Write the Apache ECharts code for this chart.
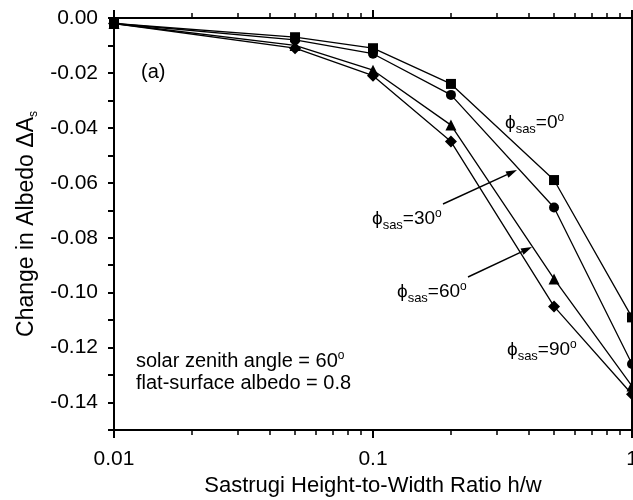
<!DOCTYPE html>
<html lang="en">
<head>
    <meta charset="UTF-8">
    <title>Change in Albedo</title>
    <script src="https://cdn.jsdelivr.net/npm/echarts@6/dist/echarts.min.js"></script>
    <style>
        body { margin: 0; background: #fff; }
    </style>
</head>
<body>
<div id="main" style="width: 633px;height:500px;"></div>
<script type="text/javascript">
    // h/w ratio values (x) and change in albedo for each azimuth
    var ratios = [0.01, 0.05, 0.1, 0.2, 0.5, 1];
    var phi0  = [-0.002, -0.007, -0.011, -0.024, -0.059, -0.109];
    var phi30 = [-0.002, -0.008, -0.013, -0.028, -0.069, -0.126];
    var phi60 = [-0.002, -0.010, -0.019, -0.039, -0.095, -0.134];
    var phi90 = [-0.002, -0.011, -0.021, -0.045, -0.105, -0.137];
    var seriesNames = ['phi=0', 'phi=30', 'phi=60', 'phi=90'];
    var symbols = ['rect', 'circle', 'triangle', 'diamond'];
    var symbolSizes = [10, 10, 11, 12];

    var font = '"Liberation Sans", Arial, Helvetica, sans-serif';

    function pairs(ys) {
        return ratios.map(function (x, i) { return [x, ys[i]]; });
    }

    var allData = [phi0, phi30, phi60, phi90];
    var series = allData.map(function (ys, i) {
        return {
            name: seriesNames[i],
            type: 'line',
            data: pairs(ys),
            symbol: symbols[i],
            symbolSize: symbolSizes[i],
            clip: false,
            lineStyle: { color: '#000', width: 1.3 },
            itemStyle: { color: '#000' },
            z: 3
        };
    });

    var phiRich = {
        p: { fontFamily: font, fontSize: 19, fill: '#000' },
        s: { fontFamily: font, fontSize: 13, fill: '#000', padding: [13, 0, 0, 0] },
        n: { fontFamily: font, fontSize: 19, fill: '#000' },
        o: { fontFamily: font, fontSize: 12, fill: '#000', padding: [0, 0, 9, 0] }
    };

    function phiLabel(deg, x, y) {
        return {
            type: 'text', left: x, top: y, z: 10,
            style: {
                text: '{p|ϕ}{s|sas}{n|=' + deg + '}{o|o}',
                rich: phiRich
            }
        };
    }

    function arrow(x1, y1, x2, y2) {
        var ang = Math.atan2(y2 - y1, x2 - x1);
        var L = 11, W = 3.5;
        var bx = x2 - L * Math.cos(ang), by = y2 - L * Math.sin(ang);
        var px = -Math.sin(ang) * W, py = Math.cos(ang) * W;
        return [
            { type: 'line', z: 10, shape: { x1: x1, y1: y1, x2: bx, y2: by },
              style: { stroke: '#000', lineWidth: 1.4 } },
            { type: 'polygon', z: 10,
              shape: { points: [[x2, y2], [bx + px, by + py], [bx - px, by - py]] },
              style: { fill: '#000' } }
        ];
    }

    var myChart = echarts.init(document.getElementById('main'));

    var xAxisCommon = {
        type: 'log',
        min: 0.01,
        max: 1,
        logBase: 10,
        axisLine: { onZero: false, lineStyle: { color: '#000', width: 2 } },
        axisTick: { length: 8, lineStyle: { color: '#000', width: 2 } },
        minorTick: { show: true, splitNumber: 9, length: 5, lineStyle: { color: '#000', width: 1.5 } },
        splitLine: { show: false }
    };

    var option = {
        animation: false,
        backgroundColor: '#fff',
        grid: {
            left: 114, top: 18, right: 1, bottom: 70,
            containLabel: false, outerBoundsMode: 'none',
            show: true, borderColor: '#000', borderWidth: 2
        },
        xAxis: [
            Object.assign({}, xAxisCommon, {
                position: 'bottom',
                name: 'Sastrugi Height-to-Width Ratio h/w',
                nameLocation: 'middle',
                nameGap: 35,
                nameTextStyle: { fontFamily: font, fontSize: 22, color: '#000' },
                axisLabel: {
                    fontFamily: font, fontSize: 21, color: '#000', margin: 19,
                    formatter: function (v) { return String(+v.toPrecision(3)); }
                }
            }),
            Object.assign({}, xAxisCommon, {
                position: 'top',
                axisLabel: { show: false }
            })
        ],
        yAxis: {
            type: 'value',
            min: -0.15,
            max: 0,
            interval: 0.01,
            name: '{t|Change in Albedo ΔA}{s|s}',
            nameLocation: 'middle',
            nameGap: 72,
            nameTextStyle: {
                rich: {
                    t: { fontFamily: font, fontSize: 23, color: '#000' },
                    s: { fontFamily: font, fontSize: 12, color: '#000', padding: [14, 0, 0, 0] }
                }
            },
            axisLine: { onZero: false, lineStyle: { color: '#000', width: 2 } },
            axisTick: { length: 6, lineStyle: { color: '#000', width: 2 } },
            axisLabel: {
                fontFamily: font, fontSize: 21, color: '#000', margin: 16,
                formatter: function (v) {
                    var k = Math.round(v * 100);
                    if (k % 2 !== 0) return '';
                    return (k / 100).toFixed(2);
                }
            },
            splitLine: { show: false }
        },
        series: series,
        graphic: [
            { type: 'text', left: 141, top: 62, z: 10,
              style: { text: '(a)', fontFamily: font, fontSize: 20, fill: '#000' } },
            phiLabel('0', 505, 112),
            phiLabel('30', 372, 208),
            phiLabel('60', 397, 281),
            phiLabel('90', 507, 339),
            { type: 'text', left: 136, top: 350, z: 10,
              style: {
                  text: '{a|solar zenith angle = 60}{o|o}',
                  rich: {
                      a: { fontFamily: font, fontSize: 20, fill: '#000' },
                      o: { fontFamily: font, fontSize: 12, fill: '#000', padding: [0, 0, 10, 0] }
                  }
              } },
            { type: 'text', left: 136, top: 373, z: 10,
              style: { text: 'flat-surface albedo = 0.8', fontFamily: font, fontSize: 20, fill: '#000' } }
        ].concat(arrow(443, 204, 517, 170)).concat(arrow(468, 277, 532, 247))
    };

    myChart.setOption(option);
</script>
</body>
</html>
